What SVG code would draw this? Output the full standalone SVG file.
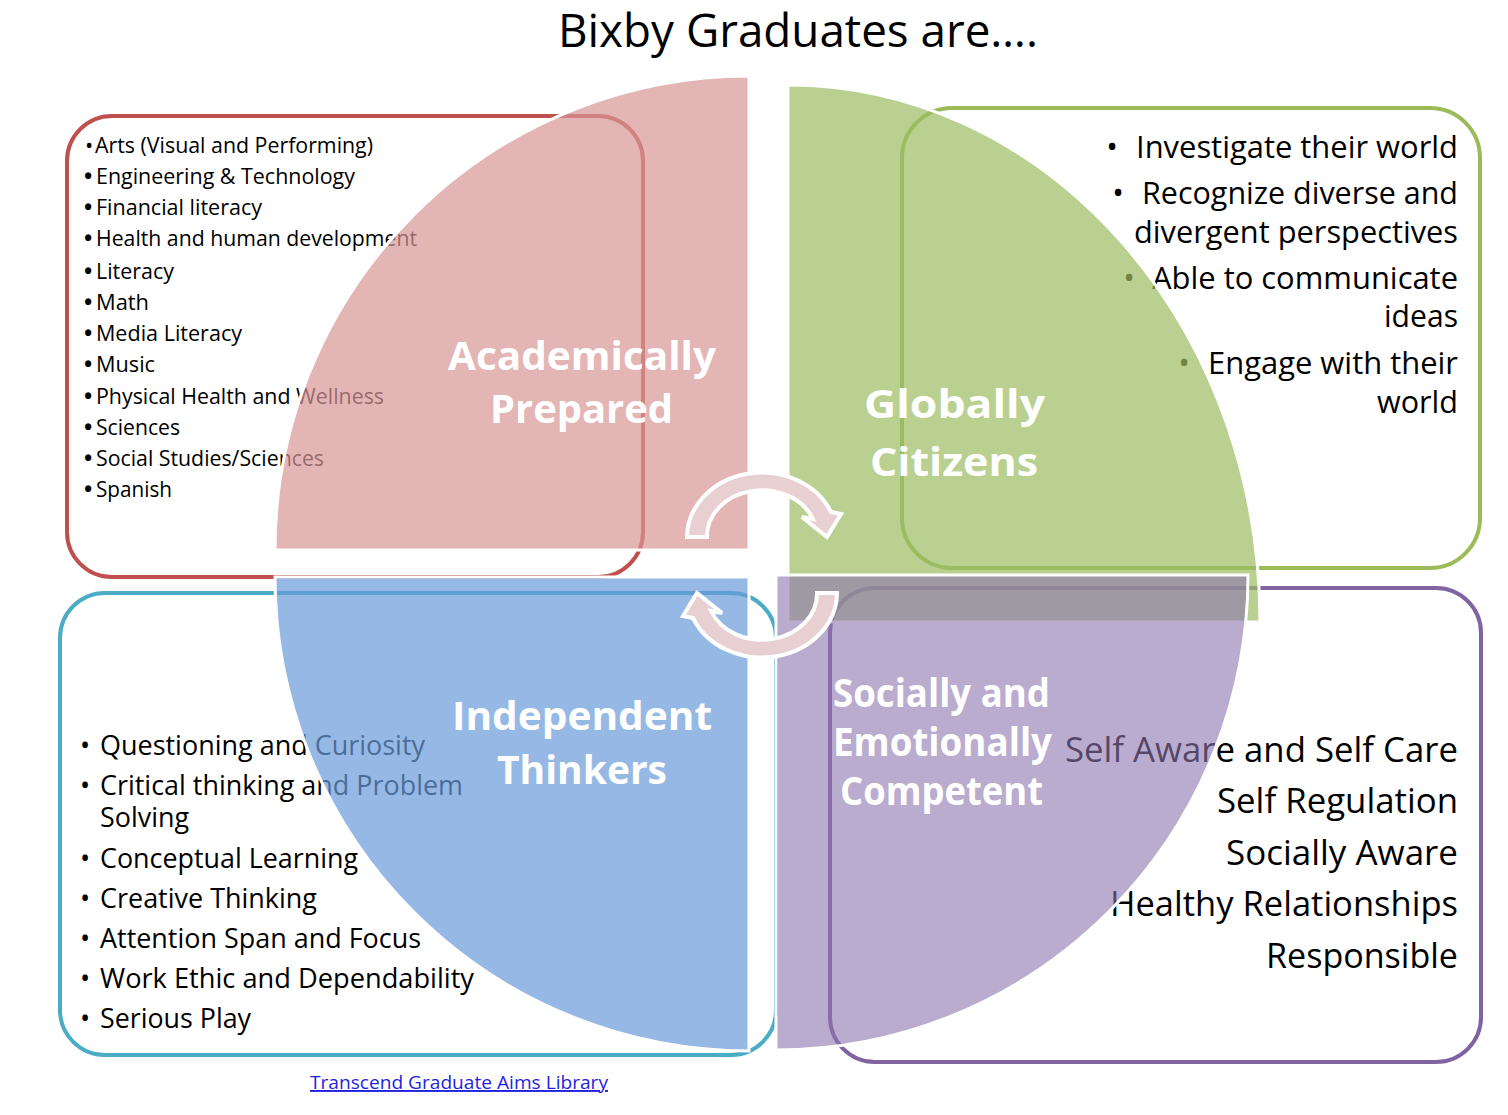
<svg xmlns="http://www.w3.org/2000/svg" width="1508" height="1115" viewBox="0 0 1508 1115">
<style>
text{font-family:"Open Sans","Liberation Sans",sans-serif;fill:#000}
.box{fill:none;stroke-width:4}
.tl{font-size:22px}
.tb{font-weight:bold}
.tr{font-size:31px;text-anchor:end}
.bl{font-size:27px}
.br{font-size:35px;text-anchor:end}
.q{stroke:#fff;stroke-width:3}
.qt{font-size:40px;font-weight:bold;fill:#fff}
.arw{fill:#E8D0D2;stroke:#fff;stroke-width:4;stroke-linejoin:miter}
</style>
<rect width="1508" height="1115" fill="#fff"/>
<text x="558" y="47" font-size="46" textLength="480" lengthAdjust="spacingAndGlyphs">Bixby Graduates are….</text>

<g id="box-academic">
<rect class="box" x="67" y="116" width="576" height="461" rx="45" stroke="#C0504D"/>
<g class="tl">
<text x="85" y="153">•</text><text x="95" y="153" textLength="278" lengthAdjust="spacingAndGlyphs">Arts (Visual and Performing)</text>
<text class="tb" x="84" y="184">•</text><text x="96" y="184" textLength="259" lengthAdjust="spacingAndGlyphs">Engineering &amp; Technology</text>
<text class="tb" x="84" y="215">•</text><text x="96" y="215" textLength="166" lengthAdjust="spacingAndGlyphs">Financial literacy</text>
<text class="tb" x="84" y="246">•</text><text x="96" y="246" textLength="321" lengthAdjust="spacingAndGlyphs">Health and human development</text>
<text class="tb" x="84" y="279">•</text><text x="96" y="279" textLength="78" lengthAdjust="spacingAndGlyphs">Literacy</text>
<text class="tb" x="84" y="310">•</text><text x="96" y="310" textLength="53" lengthAdjust="spacingAndGlyphs">Math</text>
<text class="tb" x="84" y="341">•</text><text x="96" y="341" textLength="146" lengthAdjust="spacingAndGlyphs">Media Literacy</text>
<text class="tb" x="84" y="372">•</text><text x="96" y="372" textLength="59" lengthAdjust="spacingAndGlyphs">Music</text>
<text class="tb" x="84" y="404">•</text><text x="96" y="404" textLength="288" lengthAdjust="spacingAndGlyphs">Physical Health and Wellness</text>
<text class="tb" x="84" y="435">•</text><text x="96" y="435" textLength="84" lengthAdjust="spacingAndGlyphs">Sciences</text>
<text class="tb" x="84" y="466">•</text><text x="96" y="466" textLength="228" lengthAdjust="spacingAndGlyphs">Social Studies/Sciences</text>
<text class="tb" x="84" y="497">•</text><text x="96" y="497" textLength="76" lengthAdjust="spacingAndGlyphs">Spanish</text>
</g>
</g>

<g id="box-global">
<rect class="box" x="902" y="108" width="578" height="460" rx="50" stroke="#9BBB59"/>
<g class="tr">
<text x="1118" y="158">•</text><text x="1458" y="158" textLength="322" lengthAdjust="spacingAndGlyphs">Investigate their world</text>
<text x="1124" y="204">•</text><text x="1458" y="204" textLength="316" lengthAdjust="spacingAndGlyphs">Recognize diverse and</text>
<text x="1458" y="243" textLength="324" lengthAdjust="spacingAndGlyphs">divergent perspectives</text>
<text x="1135" y="289">•</text><text x="1458" y="289" textLength="306" lengthAdjust="spacingAndGlyphs">Able to communicate</text>
<text x="1458" y="327" textLength="74" lengthAdjust="spacingAndGlyphs">ideas</text>
<text x="1190" y="374">•</text><text x="1458" y="374" textLength="250" lengthAdjust="spacingAndGlyphs">Engage with their</text>
<text x="1458" y="413" textLength="81" lengthAdjust="spacingAndGlyphs">world</text>
</g>
</g>

<g id="box-independent">
<rect class="box" x="60" y="593" width="716" height="462" rx="45" stroke="#4BACC6"/>
<g class="bl">
<text x="80" y="755">•</text><text x="100" y="755" textLength="325" lengthAdjust="spacingAndGlyphs">Questioning and Curiosity</text>
<text x="80" y="795">•</text><text x="100" y="795" textLength="363" lengthAdjust="spacingAndGlyphs">Critical thinking and Problem</text>
<text x="100" y="827" textLength="89" lengthAdjust="spacingAndGlyphs">Solving</text>
<text x="80" y="868">•</text><text x="100" y="868" textLength="258" lengthAdjust="spacingAndGlyphs">Conceptual Learning</text>
<text x="80" y="908">•</text><text x="100" y="908" textLength="217" lengthAdjust="spacingAndGlyphs">Creative Thinking</text>
<text x="80" y="948">•</text><text x="100" y="948" textLength="321" lengthAdjust="spacingAndGlyphs">Attention Span and Focus</text>
<text x="80" y="988">•</text><text x="100" y="988" textLength="374" lengthAdjust="spacingAndGlyphs">Work Ethic and Dependability</text>
<text x="80" y="1028">•</text><text x="100" y="1028" textLength="151" lengthAdjust="spacingAndGlyphs">Serious Play</text>
</g>
</g>

<g id="box-social">
<rect class="box" x="830" y="588" width="651" height="474" rx="45" stroke="#8064A2"/>
<g class="br">
<text x="1458" y="762" textLength="393" lengthAdjust="spacingAndGlyphs">Self Aware and Self Care</text>
<text x="1458" y="813" textLength="241" lengthAdjust="spacingAndGlyphs">Self Regulation</text>
<text x="1458" y="865" textLength="232" lengthAdjust="spacingAndGlyphs">Socially Aware</text>
<text x="1458" y="916" textLength="348" lengthAdjust="spacingAndGlyphs">Healthy Relationships</text>
<text x="1458" y="968" textLength="192" lengthAdjust="spacingAndGlyphs">Responsible</text>
</g>
</g>

<g id="quadrant-academic">
<path class="q" d="M749,550 H275 A474,474 0 0 1 749,76 Z" fill="rgb(216,149,149)" fill-opacity="0.7"/>
</g>
<g id="quadrant-independent">
<path class="q" d="M749,577 V1051 A474,474 0 0 1 275,577 Z" fill="rgb(105,154,216)" fill-opacity="0.7"/>
</g>
<g id="quadrant-global">
<path class="q" d="M788,622 V85 A472,537 0 0 1 1260,622 Z" fill="rgb(155,188,98)" fill-opacity="0.7"/>
</g>
<g id="quadrant-social">
<path class="q" d="M776,575 H1248 A472,475 0 0 1 776,1050 Z" fill="rgb(140,117,173)" fill-opacity="0.6"/>
</g>

<g id="labels">
<text class="qt" x="448" y="370" textLength="268" lengthAdjust="spacingAndGlyphs">Academically</text>
<text class="qt" x="490" y="423" textLength="183" lengthAdjust="spacingAndGlyphs">Prepared</text>
<text class="qt" x="864" y="418" textLength="181" lengthAdjust="spacingAndGlyphs">Globally</text>
<text class="qt" x="870" y="476" textLength="168" lengthAdjust="spacingAndGlyphs">Citizens</text>
<text class="qt" x="452" y="730" textLength="260" lengthAdjust="spacingAndGlyphs">Independent</text>
<text class="qt" x="497" y="784" textLength="170" lengthAdjust="spacingAndGlyphs">Thinkers</text>
<text class="qt" x="833" y="707" textLength="217" lengthAdjust="spacingAndGlyphs">Socially and</text>
<text class="qt" x="833" y="756" textLength="219" lengthAdjust="spacingAndGlyphs">Emotionally</text>
<text class="qt" x="840" y="805" textLength="203" lengthAdjust="spacingAndGlyphs">Competent</text>
</g>

<g id="connectors">
<path class="arw" d="M687,537 A75,65 0 0 1 831,512 L841,514 L827,537 L802,517 L813,519 A55,46 0 0 0 707,537 Z"/>
<path class="arw" transform="rotate(180 762 565)" d="M687,537 A75,65 0 0 1 831,512 L841,514 L827,537 L802,517 L813,519 A55,46 0 0 0 707,537 Z"/>
</g>

<text x="310" y="1089" font-size="19" style="fill:#1F1FE0" text-decoration="underline" textLength="298" lengthAdjust="spacingAndGlyphs">Transcend Graduate Aims Library</text>
</svg>
